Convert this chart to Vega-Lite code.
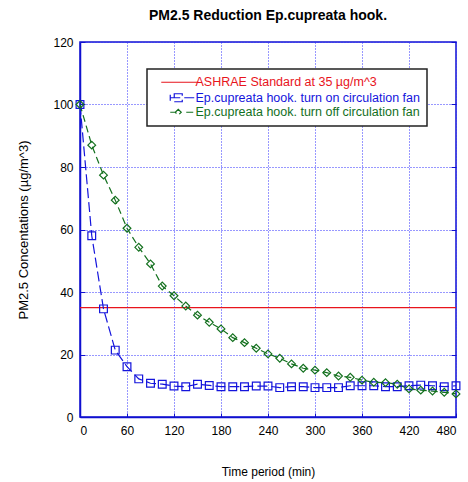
{
  "$schema": "https://vega.github.io/schema/vega-lite/v6.json",
  "width": 376,
  "height": 375,
  "autosize": {"type": "none"},
  "padding": {"left": 80, "top": 42, "right": 12, "bottom": 65},
  "background": "white",
  "title": {"text": "PM2.5 Reduction Ep.cupreata hook.", "font": "Liberation Sans", "fontSize": 14, "fontWeight": "bold", "color": "black", "anchor": "middle", "offset": 13},
  "config": {
    "view": {"stroke": "#1010d0", "strokeWidth": 1.5},
    "axis": {"labelFont": "Liberation Sans", "labelFontSize": 12, "labelColor": "black", "titleFont": "Liberation Sans", "titleFontSize": 12, "titleFontWeight": "normal", "titleColor": "black", "domainColor": "#1010d0", "domainWidth": 1.5, "tickColor": "#1010d0", "gridColor": "#3030ff", "gridDash": [1, 2], "gridOpacity": 1, "gridWidth": 1}
  },
  "data": {"values": [
    {"series": "ASHRAE Standard at 35 µg/m^3", "time": 0, "pm": 35},
    {"series": "ASHRAE Standard at 35 µg/m^3", "time": 480, "pm": 35},
    {"series": "Ep.cupreata hook. turn on circulation fan", "time": 0, "pm": 100},
    {"series": "Ep.cupreata hook. turn on circulation fan", "time": 15, "pm": 58.0},
    {"series": "Ep.cupreata hook. turn on circulation fan", "time": 30, "pm": 34.6},
    {"series": "Ep.cupreata hook. turn on circulation fan", "time": 45, "pm": 21.4},
    {"series": "Ep.cupreata hook. turn on circulation fan", "time": 60, "pm": 16.1},
    {"series": "Ep.cupreata hook. turn on circulation fan", "time": 75, "pm": 12.2},
    {"series": "Ep.cupreata hook. turn on circulation fan", "time": 90, "pm": 10.8},
    {"series": "Ep.cupreata hook. turn on circulation fan", "time": 105, "pm": 10.5},
    {"series": "Ep.cupreata hook. turn on circulation fan", "time": 120, "pm": 9.9},
    {"series": "Ep.cupreata hook. turn on circulation fan", "time": 135, "pm": 9.7},
    {"series": "Ep.cupreata hook. turn on circulation fan", "time": 150, "pm": 10.5},
    {"series": "Ep.cupreata hook. turn on circulation fan", "time": 165, "pm": 10.1},
    {"series": "Ep.cupreata hook. turn on circulation fan", "time": 180, "pm": 9.7},
    {"series": "Ep.cupreata hook. turn on circulation fan", "time": 195, "pm": 9.7},
    {"series": "Ep.cupreata hook. turn on circulation fan", "time": 210, "pm": 9.7},
    {"series": "Ep.cupreata hook. turn on circulation fan", "time": 225, "pm": 9.9},
    {"series": "Ep.cupreata hook. turn on circulation fan", "time": 240, "pm": 9.9},
    {"series": "Ep.cupreata hook. turn on circulation fan", "time": 255, "pm": 9.4},
    {"series": "Ep.cupreata hook. turn on circulation fan", "time": 270, "pm": 9.7},
    {"series": "Ep.cupreata hook. turn on circulation fan", "time": 285, "pm": 9.7},
    {"series": "Ep.cupreata hook. turn on circulation fan", "time": 300, "pm": 9.4},
    {"series": "Ep.cupreata hook. turn on circulation fan", "time": 315, "pm": 9.4},
    {"series": "Ep.cupreata hook. turn on circulation fan", "time": 330, "pm": 9.4},
    {"series": "Ep.cupreata hook. turn on circulation fan", "time": 345, "pm": 10.0},
    {"series": "Ep.cupreata hook. turn on circulation fan", "time": 360, "pm": 10.0},
    {"series": "Ep.cupreata hook. turn on circulation fan", "time": 375, "pm": 10.0},
    {"series": "Ep.cupreata hook. turn on circulation fan", "time": 390, "pm": 9.7},
    {"series": "Ep.cupreata hook. turn on circulation fan", "time": 405, "pm": 9.7},
    {"series": "Ep.cupreata hook. turn on circulation fan", "time": 420, "pm": 10.0},
    {"series": "Ep.cupreata hook. turn on circulation fan", "time": 435, "pm": 10.2},
    {"series": "Ep.cupreata hook. turn on circulation fan", "time": 450, "pm": 10.0},
    {"series": "Ep.cupreata hook. turn on circulation fan", "time": 465, "pm": 9.7},
    {"series": "Ep.cupreata hook. turn on circulation fan", "time": 480, "pm": 10.0},
    {"series": "Ep.cupreata hook. turn off circulation fan", "time": 0, "pm": 100},
    {"series": "Ep.cupreata hook. turn off circulation fan", "time": 15, "pm": 87.0},
    {"series": "Ep.cupreata hook. turn off circulation fan", "time": 30, "pm": 77.4},
    {"series": "Ep.cupreata hook. turn off circulation fan", "time": 45, "pm": 69.4},
    {"series": "Ep.cupreata hook. turn off circulation fan", "time": 60, "pm": 60.4},
    {"series": "Ep.cupreata hook. turn off circulation fan", "time": 75, "pm": 54.3},
    {"series": "Ep.cupreata hook. turn off circulation fan", "time": 90, "pm": 49.0},
    {"series": "Ep.cupreata hook. turn off circulation fan", "time": 105, "pm": 41.9},
    {"series": "Ep.cupreata hook. turn off circulation fan", "time": 120, "pm": 38.8},
    {"series": "Ep.cupreata hook. turn off circulation fan", "time": 135, "pm": 35.5},
    {"series": "Ep.cupreata hook. turn off circulation fan", "time": 150, "pm": 32.6},
    {"series": "Ep.cupreata hook. turn off circulation fan", "time": 165, "pm": 30.3},
    {"series": "Ep.cupreata hook. turn off circulation fan", "time": 180, "pm": 28.2},
    {"series": "Ep.cupreata hook. turn off circulation fan", "time": 195, "pm": 25.4},
    {"series": "Ep.cupreata hook. turn off circulation fan", "time": 210, "pm": 23.8},
    {"series": "Ep.cupreata hook. turn off circulation fan", "time": 225, "pm": 22.0},
    {"series": "Ep.cupreata hook. turn off circulation fan", "time": 240, "pm": 20.2},
    {"series": "Ep.cupreata hook. turn off circulation fan", "time": 255, "pm": 18.8},
    {"series": "Ep.cupreata hook. turn off circulation fan", "time": 270, "pm": 17.0},
    {"series": "Ep.cupreata hook. turn off circulation fan", "time": 285, "pm": 15.6},
    {"series": "Ep.cupreata hook. turn off circulation fan", "time": 300, "pm": 15.0},
    {"series": "Ep.cupreata hook. turn off circulation fan", "time": 315, "pm": 14.2},
    {"series": "Ep.cupreata hook. turn off circulation fan", "time": 330, "pm": 13.1},
    {"series": "Ep.cupreata hook. turn off circulation fan", "time": 345, "pm": 12.7},
    {"series": "Ep.cupreata hook. turn off circulation fan", "time": 360, "pm": 11.8},
    {"series": "Ep.cupreata hook. turn off circulation fan", "time": 375, "pm": 11.1},
    {"series": "Ep.cupreata hook. turn off circulation fan", "time": 390, "pm": 11.0},
    {"series": "Ep.cupreata hook. turn off circulation fan", "time": 405, "pm": 10.5},
    {"series": "Ep.cupreata hook. turn off circulation fan", "time": 420, "pm": 9.0},
    {"series": "Ep.cupreata hook. turn off circulation fan", "time": 435, "pm": 8.6},
    {"series": "Ep.cupreata hook. turn off circulation fan", "time": 450, "pm": 8.3},
    {"series": "Ep.cupreata hook. turn off circulation fan", "time": 465, "pm": 7.9},
    {"series": "Ep.cupreata hook. turn off circulation fan", "time": 480, "pm": 7.4}
  ]},
  "resolve": {"axis": {"y": "independent"}},
  "layer": [
    {
      "mark": {"type": "line", "strokeWidth": 1.2, "clip": true},
      "encoding": {
        "x": {"field": "time", "type": "quantitative", "scale": {"domain": [0, 480], "nice": false}, "axis": {"values": [0, 60, 120, 180, 240, 300, 360, 420, 480], "grid": true, "tickSize": -4, "labelPadding": 12, "title": "Time period (min)", "titlePadding": 30}},
        "y": {"field": "pm", "type": "quantitative", "scale": {"domain": [0, 120], "nice": false}, "axis": {"values": [0, 20, 40, 60, 80, 100, 120], "grid": true, "tickSize": -5, "labelPadding": 12, "title": "PM2.5 Concentations (µg/m^3)", "titleFontSize": 13, "titlePadding": 22}},
        "color": {"field": "series", "type": "nominal", "scale": {"domain": ["ASHRAE Standard at 35 µg/m^3", "Ep.cupreata hook. turn on circulation fan", "Ep.cupreata hook. turn off circulation fan"], "range": ["#e8141c", "#1414dc", "#13701e"]},
          "legend": {"title": null, "orient": "none", "legendX": 67, "legendY": 27, "fillColor": "white", "strokeColor": "#222222", "padding": 7, "labelFont": "Liberation Sans", "labelFontSize": 12.5, "symbolSize": 100, "symbolStrokeWidth": 1.2, "labelOffset": 29, "rowPadding": 1.5, "labelLimit": 400,
            "encode": {
              "legend": {"update": {"strokeWidth": {"value": 1.5}}},
              "symbols": {"update": {"fill": {"value": "transparent"}, "strokeDash": {"value": [1, 0]}, "shape": {"signal": "datum.index === 0 ? 'M0.2,0H7.6' : datum.index === 1 ? 'M2,0H7M2,-0.6V0.6M2.8,-0.8H4.4V0.8H2.8Z' : 'M2,0H3M5.2,0H7M3.6,-0.6L4.2,0L3.6,0.6L3,0Z'"}}},
              "labels": {"update": {"fill": {"signal": "datum.index === 0 ? '#e8141c' : datum.index === 1 ? '#1414dc' : '#13701e'"}}}
            }}},
        "strokeDash": {"field": "series", "type": "nominal", "scale": {"domain": ["ASHRAE Standard at 35 µg/m^3", "Ep.cupreata hook. turn on circulation fan", "Ep.cupreata hook. turn off circulation fan"], "range": [[1, 0], [10, 4], [7, 4]]}, "legend": null}
      }
    },
    {
      "transform": [{"filter": "datum.series !== 'ASHRAE Standard at 35 µg/m^3'"}],
      "mark": {"type": "point", "filled": false, "size": 60, "strokeWidth": 1.2, "opacity": 1},
      "encoding": {
        "x": {"field": "time", "type": "quantitative"},
        "y": {"field": "pm", "type": "quantitative", "axis": {"orient": "right", "values": [0, 20, 40, 60, 80, 100, 120], "labels": false, "grid": false, "domain": false, "tickSize": -5, "title": null}},
        "color": {"field": "series", "type": "nominal"},
        "shape": {"field": "series", "type": "nominal", "scale": {"domain": ["Ep.cupreata hook. turn on circulation fan", "Ep.cupreata hook. turn off circulation fan"], "range": ["square", "diamond"]}, "legend": null}
      }
    }
  ]
}
